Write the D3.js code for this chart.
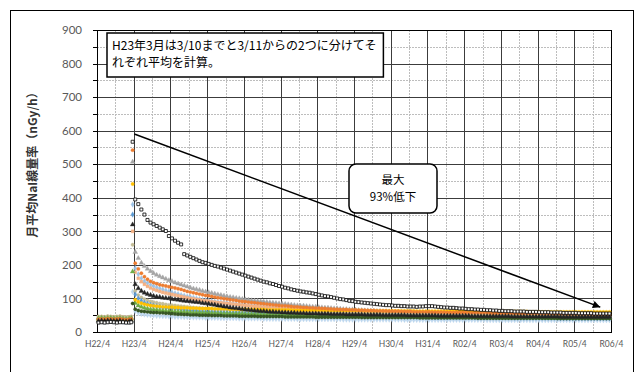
<!DOCTYPE html>
<html>
<head>
<meta charset="utf-8">
<script src="https://cdn.jsdelivr.net/npm/d3@7"></script>
<style>
  body { margin: 0; background: #fff; }
  svg { display: block; }
  .tick text { fill: #595959; font-family: Lato, "Noto Sans", sans-serif; }
</style>
</head>
<body>
<div id="chart"></div>
<script>
// x tick labels, one per April (month index 0, 12, 24 ...)
const xLabels = ["H22/4", "H23/4", "H24/4", "H25/4", "H26/4", "H27/4", "H28/4", "H29/4",
                 "H30/4", "H31/4", "R02/4", "R03/4", "R04/4", "R05/4", "R06/4"];
const yTicks = [0, 100, 200, 300, 400, 500, 600, 700, 800, 900];

// monthly means H22/4 .. H23/3 (before 3/10), nGy/h
const pre01 = [28, 29, 28, 29, 30, 29, 28, 29, 29, 28, 28, 29];
const pre02 = [38, 39, 38, 40, 39, 38, 39, 40, 38, 37, 38, 39];
const pre03 = [43, 43, 42, 44, 43, 42, 43, 44, 42, 41, 42, 43];
const pre04 = [40, 41, 40, 41, 40, 40, 41, 41, 39, 38, 39, 40];
const pre05 = [33, 34, 33, 34, 34, 33, 33, 34, 32, 31, 32, 33];
const pre06 = [36, 37, 36, 37, 37, 36, 36, 37, 35, 34, 35, 36];
const pre07 = [45, 45, 44, 46, 45, 44, 45, 46, 44, 43, 44, 45];
const pre08 = [35, 35, 34, 35, 35, 34, 35, 35, 33, 32, 33, 34];
const pre09 = [31, 32, 31, 32, 32, 31, 31, 32, 30, 29, 30, 31];
const pre10 = [46, 46, 45, 47, 46, 45, 46, 47, 45, 44, 45, 46];
const pre11 = [37, 38, 37, 38, 38, 37, 37, 38, 36, 35, 36, 37];
const pre12 = [41, 42, 41, 42, 42, 41, 41, 42, 40, 39, 40, 41];

// H23/3 mean from 3/11, one value per station (same order as the series)
const marchAfter = [567, 542, 507, 380, 320, 441, 300, 85, 120, 260, 350, 180];

// monthly means H23/4 .. R06/3, one row per fiscal year
const post01 = [
  395, 381, 365, 350, 334, 326, 321, 316, 311, 306, 301, 286,
  279, 272, 266, 261, 232, 228, 224, 220, 216, 212, 208, 206,
  203, 200, 197, 195, 192, 189, 186, 183, 180, 177, 174, 171,
  168, 165, 162, 159, 156, 153, 150, 148, 145, 143, 140, 137,
  135, 132, 130, 127, 125, 123, 121, 120, 118, 117, 115, 113,
  111, 109, 107, 106, 104, 102, 100, 98, 97, 95, 93, 92,
  90, 89, 88, 87, 86, 85, 84, 83, 82, 81, 80, 80,
  79, 78, 78, 77, 77, 76, 76, 76, 75, 76, 76, 77,
  77, 77, 76, 75, 74, 73, 73, 72, 72, 71, 70, 70,
  69, 68, 68, 67, 67, 66, 66, 65, 65, 64, 64, 63,
  63, 62, 62, 62, 61, 61, 61, 61, 60, 60, 60, 60,
  59, 59, 59, 59, 58, 58, 58, 58, 57, 57, 57, 57,
  57, 56, 56, 56, 56, 56, 55, 55, 55, 55, 55, 55];
const post02 = [
  205, 188, 175, 165, 157, 151, 147, 144, 141, 139, 137, 135,
  133, 131, 129, 127, 124, 121, 119, 117, 115, 113, 111, 109,
  108, 106, 104, 102, 101, 99, 98, 96, 95, 94, 92, 91,
  90, 89, 88, 87, 86, 85, 84, 83, 82, 81, 80, 79,
  78, 78, 77, 76, 75, 75, 74, 73, 73, 72, 72, 71,
  71, 70, 70, 69, 69, 68, 68, 67, 67, 67, 66, 66,
  66, 65, 65, 65, 64, 64, 64, 63, 63, 63, 63, 62,
  62, 62, 62, 61, 61, 61, 61, 60, 60, 60, 60, 60,
  60, 59, 59, 59, 59, 59, 58, 58, 58, 58, 58, 58,
  58, 57, 57, 57, 57, 57, 57, 57, 56, 56, 56, 56,
  56, 56, 56, 56, 55, 55, 55, 55, 55, 55, 55, 55,
  55, 54, 54, 54, 54, 54, 54, 54, 54, 53, 53, 53,
  53, 53, 53, 53, 53, 53, 52, 52, 52, 52, 52, 52];
const post03 = [
  238, 220, 206, 196, 188, 181, 175, 170, 166, 162, 158, 154,
  151, 147, 144, 141, 138, 135, 132, 129, 127, 125, 122, 120,
  118, 116, 114, 112, 110, 108, 106, 104, 103, 101, 100, 98,
  97, 96, 94, 93, 92, 91, 90, 89, 88, 87, 86, 85,
  84, 83, 82, 81, 80, 79, 78, 78, 77, 76, 75, 75,
  74, 73, 72, 72, 71, 70, 70, 69, 68, 68, 67, 67,
  66, 65, 65, 64, 64, 63, 63, 62, 62, 61, 61, 60,
  60, 59, 59, 58, 58, 58, 57, 57, 56, 56, 56, 55,
  55, 55, 54, 54, 54, 53, 53, 53, 53, 52, 52, 52,
  52, 51, 51, 51, 51, 50, 50, 50, 50, 50, 49, 49,
  49, 49, 49, 49, 48, 48, 48, 48, 48, 48, 48, 47,
  47, 47, 47, 47, 47, 47, 46, 46, 46, 46, 46, 46,
  46, 46, 46, 46, 45, 45, 45, 45, 45, 45, 45, 45];
const post04 = [
  190, 172, 160, 152, 146, 141, 137, 133, 130, 127, 124, 121,
  118, 115, 113, 110, 108, 106, 104, 102, 100, 98, 96, 95,
  93, 92, 90, 89, 88, 87, 86, 85, 84, 83, 82, 81,
  80, 79, 78, 78, 77, 76, 75, 75, 74, 73, 73, 72,
  71, 71, 70, 70, 69, 69, 68, 68, 67, 67, 66, 66,
  65, 65, 64, 64, 63, 63, 62, 62, 62, 61, 61, 60,
  60, 59, 59, 58, 58, 58, 57, 57, 56, 56, 56, 55,
  55, 55, 54, 54, 54, 53, 53, 53, 52, 52, 52, 52,
  51, 51, 51, 50, 50, 50, 50, 49, 49, 49, 49, 48,
  48, 48, 48, 47, 47, 47, 47, 47, 46, 46, 46, 46,
  46, 45, 45, 45, 45, 45, 44, 44, 44, 44, 44, 44,
  43, 43, 43, 43, 43, 43, 42, 42, 42, 42, 42, 42,
  42, 42, 41, 41, 41, 41, 41, 41, 41, 40, 40, 40];
const post05 = [
  142, 130, 122, 117, 113, 110, 107, 105, 104, 102, 101, 100,
  98, 97, 96, 94, 93, 92, 91, 90, 89, 88, 86, 85,
  84, 82, 81, 79, 78, 76, 75, 73, 72, 71, 70, 68,
  67, 66, 65, 64, 63, 62, 62, 61, 60, 60, 59, 59,
  58, 58, 57, 57, 57, 56, 56, 56, 55, 55, 55, 55,
  54, 54, 54, 54, 53, 53, 53, 53, 53, 52, 52, 52,
  52, 52, 52, 51, 51, 51, 51, 51, 51, 50, 50, 50,
  50, 50, 50, 50, 50, 49, 49, 49, 49, 49, 49, 49,
  49, 49, 49, 48, 48, 48, 48, 48, 48, 48, 48, 48,
  48, 48, 47, 47, 47, 47, 47, 47, 47, 47, 47, 47,
  47, 47, 47, 46, 46, 46, 46, 46, 46, 46, 46, 46,
  46, 46, 46, 46, 46, 46, 46, 45, 45, 45, 45, 45,
  45, 45, 45, 45, 45, 45, 45, 45, 45, 45, 45, 45];
const post06 = [
  96, 90, 86, 83, 81, 79, 78, 77, 76, 75, 75, 74,
  74, 73, 73, 72, 72, 72, 71, 71, 71, 70, 70, 70,
  70, 70, 69, 69, 69, 69, 69, 68, 68, 68, 68, 68,
  68, 67, 67, 67, 67, 67, 67, 66, 66, 66, 66, 66,
  66, 66, 66, 66, 65, 65, 65, 65, 65, 65, 65, 65,
  65, 65, 64, 64, 64, 64, 64, 64, 64, 64, 64, 64,
  64, 64, 64, 63, 63, 63, 63, 63, 63, 63, 63, 63,
  63, 63, 63, 63, 63, 63, 63, 63, 62, 62, 62, 62,
  62, 62, 62, 62, 62, 62, 62, 62, 62, 62, 62, 62,
  62, 62, 61, 61, 61, 61, 61, 61, 61, 61, 61, 61,
  61, 61, 61, 61, 61, 61, 61, 61, 61, 60, 60, 60,
  60, 60, 60, 60, 60, 60, 60, 60, 60, 60, 60, 60,
  60, 60, 60, 60, 60, 60, 60, 60, 60, 60, 60, 60];
const post07 = [
  178, 160, 150, 142, 136, 131, 127, 124, 121, 118, 116, 114,
  112, 110, 108, 106, 104, 102, 100, 99, 97, 96, 94, 93,
  92, 90, 89, 88, 87, 86, 85, 84, 83, 82, 81, 80,
  79, 78, 77, 76, 76, 75, 74, 73, 73, 72, 71, 71,
  70, 69, 69, 68, 68, 67, 67, 66, 66, 65, 65, 64,
  64, 63, 63, 62, 62, 61, 61, 61, 60, 60, 59, 59,
  59, 58, 58, 58, 57, 57, 57, 56, 56, 56, 55, 55,
  55, 54, 54, 54, 54, 53, 53, 53, 53, 52, 52, 52,
  52, 52, 51, 51, 51, 51, 51, 50, 50, 50, 50, 50,
  50, 49, 49, 49, 49, 49, 49, 48, 48, 48, 48, 48,
  48, 48, 47, 47, 47, 47, 47, 47, 47, 47, 46, 46,
  46, 46, 46, 46, 46, 46, 46, 46, 45, 45, 45, 45,
  45, 45, 45, 45, 45, 45, 45, 44, 44, 44, 44, 44];
const post08 = [
  68, 64, 62, 61, 60, 59, 58, 58, 57, 57, 56, 56,
  55, 54, 53, 53, 52, 52, 51, 51, 51, 50, 50, 50,
  50, 49, 49, 49, 49, 48, 48, 48, 48, 48, 47, 47,
  47, 47, 47, 47, 46, 46, 46, 46, 46, 46, 46, 46,
  46, 45, 45, 45, 45, 45, 45, 45, 45, 45, 45, 44,
  44, 44, 44, 44, 44, 44, 44, 44, 44, 44, 44, 44,
  44, 44, 43, 43, 43, 43, 43, 43, 43, 43, 43, 43,
  43, 43, 43, 43, 43, 43, 43, 43, 43, 42, 42, 42,
  42, 42, 42, 42, 42, 42, 42, 42, 42, 42, 42, 42,
  42, 42, 42, 42, 41, 41, 41, 41, 41, 41, 41, 41,
  41, 41, 41, 41, 41, 41, 41, 41, 41, 41, 41, 41,
  41, 41, 41, 41, 41, 41, 40, 40, 40, 40, 40, 40,
  40, 40, 40, 40, 40, 40, 40, 40, 40, 40, 40, 40];
const post09 = [
  62, 57, 54, 52, 51, 50, 49, 48, 48, 47, 47, 46,
  46, 45, 45, 45, 44, 44, 44, 43, 43, 43, 43, 42,
  42, 42, 42, 42, 41, 41, 41, 41, 41, 41, 40, 40,
  40, 40, 40, 40, 40, 40, 39, 39, 39, 39, 39, 39,
  39, 39, 39, 39, 39, 38, 38, 38, 38, 38, 38, 38,
  38, 38, 38, 38, 38, 38, 38, 38, 37, 37, 37, 37,
  37, 37, 37, 37, 37, 37, 37, 37, 37, 37, 37, 37,
  37, 37, 37, 37, 36, 36, 36, 36, 36, 36, 36, 36,
  36, 36, 36, 36, 36, 36, 36, 36, 36, 36, 36, 36,
  36, 36, 36, 36, 36, 36, 36, 35, 35, 35, 35, 35,
  35, 35, 35, 35, 35, 35, 35, 35, 35, 35, 35, 35,
  35, 35, 35, 35, 35, 35, 35, 35, 35, 35, 35, 35,
  35, 35, 35, 35, 35, 35, 35, 35, 35, 35, 35, 35];
const post10 = [
  122, 110, 103, 98, 94, 91, 89, 87, 85, 84, 82, 81,
  80, 79, 78, 77, 76, 75, 74, 73, 72, 72, 71, 70,
  70, 69, 68, 68, 67, 67, 66, 66, 65, 65, 64, 64,
  63, 63, 62, 62, 62, 61, 61, 61, 60, 60, 60, 59,
  59, 59, 58, 58, 58, 58, 57, 57, 57, 57, 56, 56,
  56, 56, 56, 55, 55, 55, 55, 55, 54, 54, 54, 54,
  54, 54, 53, 53, 53, 53, 53, 53, 52, 52, 52, 52,
  52, 52, 52, 52, 51, 51, 51, 51, 51, 51, 51, 51,
  51, 50, 50, 50, 50, 50, 50, 50, 50, 50, 50, 49,
  49, 49, 49, 49, 49, 49, 49, 49, 49, 48, 48, 48,
  48, 48, 48, 48, 48, 48, 48, 48, 48, 48, 47, 47,
  47, 47, 47, 47, 47, 47, 47, 47, 47, 47, 47, 47,
  47, 47, 47, 46, 46, 46, 46, 46, 46, 46, 46, 46];
const post11 = [
  112, 100, 93, 88, 84, 81, 79, 77, 75, 73, 72, 71,
  70, 69, 68, 67, 66, 65, 64, 64, 63, 62, 62, 61,
  61, 60, 60, 59, 59, 58, 58, 57, 57, 57, 56, 56,
  56, 55, 55, 55, 54, 54, 54, 54, 53, 53, 53, 53,
  52, 52, 52, 52, 52, 51, 51, 51, 51, 51, 50, 50,
  50, 50, 50, 50, 49, 49, 49, 49, 49, 49, 49, 48,
  48, 48, 48, 48, 48, 48, 47, 47, 47, 47, 47, 47,
  47, 47, 47, 47, 46, 46, 46, 46, 46, 46, 46, 46,
  46, 46, 45, 45, 45, 45, 45, 45, 45, 45, 45, 45,
  45, 45, 45, 44, 44, 44, 44, 44, 44, 44, 44, 44,
  44, 44, 44, 44, 43, 43, 43, 43, 43, 43, 43, 43,
  43, 43, 43, 43, 43, 43, 43, 42, 42, 42, 42, 42,
  42, 42, 42, 42, 42, 42, 42, 42, 42, 42, 42, 42];
const post12 = [
  86, 79, 75, 72, 70, 68, 67, 66, 65, 64, 63, 62,
  62, 61, 61, 60, 60, 59, 59, 58, 58, 58, 57, 57,
  57, 56, 56, 56, 55, 55, 55, 55, 54, 54, 54, 54,
  53, 53, 53, 53, 53, 52, 52, 52, 52, 52, 51, 51,
  51, 51, 51, 51, 50, 50, 50, 50, 50, 50, 50, 49,
  49, 49, 49, 49, 49, 49, 48, 48, 48, 48, 48, 48,
  48, 48, 48, 47, 47, 47, 47, 47, 47, 47, 47, 46,
  46, 46, 46, 46, 46, 46, 46, 46, 45, 45, 45, 45,
  45, 45, 45, 45, 45, 45, 45, 45, 44, 44, 44, 44,
  44, 44, 44, 44, 44, 44, 44, 44, 44, 44, 43, 43,
  43, 43, 43, 43, 43, 43, 43, 43, 43, 43, 43, 43,
  43, 43, 42, 42, 42, 42, 42, 42, 42, 42, 42, 42,
  42, 42, 42, 42, 42, 42, 42, 42, 42, 42, 42, 42];

// marker style per station
const markerShapes = ["square", "circle", "triangle", "diamond", "triangle", "circle",
                      "square", "circle", "diamond", "circle", "diamond", "triangle"];
const markerColors = ["#000000", "#ED7D31", "#A5A5A5", "#9DC3E6", "#262626", "#FFC000",
                      "#F4B183", "#375623", "#BDD7EE", "#C4BD97", "#5B9BD5", "#70AD47"];

const preAll = [pre01, pre02, pre03, pre04, pre05, pre06, pre07, pre08, pre09, pre10, pre11, pre12];
const postAll = [post01, post02, post03, post04, post05, post06, post07, post08, post09, post10, post11, post12];

const width = 643, height = 372;
const svg = d3.select('#chart').append('svg').attr('width', width).attr('height', height);

// outer chart frame
svg.append('rect')
  .attr('x', 10.5).attr('y', 10.5).attr('width', 623).attr('height', 380)
  .attr('fill', '#fff').attr('stroke', '#000').attr('stroke-width', 1);

const x = d3.scaleLinear().domain([0, 168]).range([97, 611]);
const y = d3.scaleLinear().domain([0, 900]).range([332, 30]);
const px = v => Math.round(v) + 0.5;

// minor gridlines (every 50 / half year)
const minor = svg.append('g');
minor.selectAll('line.h').data(d3.range(50, 900, 100)).join('line')
  .attr('x1', x(0)).attr('x2', x(168))
  .attr('y1', d => px(y(d))).attr('y2', d => px(y(d)))
  .attr('stroke', '#bdbdbd').attr('stroke-dasharray', '2,1');
minor.selectAll('line.v').data(d3.range(6, 168, 12)).join('line')
  .attr('y1', y(0)).attr('y2', y(900))
  .attr('x1', d => px(x(d))).attr('x2', d => px(x(d)))
  .attr('stroke', '#bdbdbd').attr('stroke-dasharray', '2,1');

// major gridlines (every 100 / year)
const major = svg.append('g');
major.selectAll('line.h').data(yTicks.slice(1, -1)).join('line')
  .attr('x1', x(0)).attr('x2', x(168))
  .attr('y1', d => px(y(d))).attr('y2', d => px(y(d)))
  .attr('stroke', '#3c3c3c');
major.selectAll('line.v').data(d3.range(12, 168, 12)).join('line')
  .attr('y1', y(0)).attr('y2', y(900))
  .attr('x1', d => px(x(d))).attr('x2', d => px(x(d)))
  .attr('stroke', '#3c3c3c');

// plot area border
svg.append('rect')
  .attr('x', px(x(0))).attr('y', px(y(900)))
  .attr('width', Math.round(x(168)) - Math.round(x(0)))
  .attr('height', Math.round(y(0)) - Math.round(y(900)))
  .attr('fill', 'none').attr('stroke', '#000');

// outward ticks on the y axis
svg.append('g').selectAll('line').data(d3.range(0, 901, 50)).join('line')
  .attr('x1', x(0) - 4).attr('x2', x(0))
  .attr('y1', d => px(y(d))).attr('y2', d => px(y(d)))
  .attr('stroke', '#000');

const yAxis = svg.append('g')
  .attr('transform', `translate(${x(0)},0)`)
  .call(d3.axisLeft(y).tickValues(yTicks).tickSize(0).tickPadding(15));
yAxis.select('.domain').remove();
yAxis.selectAll('text').style('font-size', '11.5px');

const xAxis = svg.append('g')
  .attr('transform', `translate(0,${y(0)})`)
  .call(d3.axisBottom(x).tickValues(d3.range(0, 169, 12)).tickFormat((d, i) => xLabels[i])
        .tickSize(0).tickPadding(9));
xAxis.select('.domain').remove();
xAxis.selectAll('text').style('font-size', '8.5px');

// y axis title
svg.append('text')
  .attr('transform', 'translate(37,162) rotate(-90)')
  .attr('text-anchor', 'middle')
  .attr('font-family', '"Noto Sans CJK JP", sans-serif')
  .attr('font-size', 12).attr('font-weight', 'bold').attr('fill', '#333')
  .text('月平均NaI線量率（nGy/h）');

// markers
const symbolTypes = {square: d3.symbolSquare, circle: d3.symbolCircle,
                     triangle: d3.symbolTriangle, diamond: d3.symbolDiamond};
const order = [2, 3, 6, 8, 9, 10, 11, 7, 5, 1, 4, 0];
const marks = svg.append('g');
order.forEach(s => {
  const pts = [];
  preAll[s].forEach((v, i) => pts.push({m: i < 11 ? i + 0.5 : 11.2, v}));
  pts.push({m: 11.65, v: marchAfter[s]});
  postAll[s].forEach((v, k) => pts.push({m: 12.5 + k, v}));
  const shape = markerShapes[s];
  const sym = d3.symbol().type(symbolTypes[shape]).size(shape === 'triangle' ? 10 : 9);
  marks.append('g').selectAll('path').data(pts).join('path')
    .attr('transform', d => `translate(${x(d.m)},${y(d.v)})`)
    .attr('d', sym)
    .attr('fill', s === 0 ? '#fff' : markerColors[s])
    .attr('stroke', markerColors[s])
    .attr('stroke-width', s === 0 ? 0.8 : 0.4)
    .attr('stroke-opacity', s === 0 ? 1 : 0.8);
});

// note box
const note = svg.append('g');
const noteRect = note.append('rect')
  .attr('x', 107).attr('y', 33).attr('height', 44)
  .attr('fill', '#fff').attr('stroke', '#000').attr('stroke-width', 1.5);
const noteText = note.append('text')
  .attr('font-family', '"Noto Sans CJK JP", sans-serif')
  .attr('font-size', 12).attr('fill', '#000');
noteText.append('tspan').attr('x', 112).attr('y', 50).text('H23年3月は3/10までと3/11からの2つに分けてそ');
noteText.append('tspan').attr('x', 112).attr('y', 67).text('れぞれ平均を計算。');
noteRect.attr('width', noteText.node().getBBox().width + 12);

// arrow showing the decrease
const defs = svg.append('defs');
defs.append('marker').attr('id', 'head')
  .attr('viewBox', '0 0 10 10').attr('refX', 10).attr('refY', 5)
  .attr('markerWidth', 6).attr('markerHeight', 5).attr('orient', 'auto')
  .attr('markerUnits', 'strokeWidth')
  .append('path').attr('d', 'M0,0 L10,5 L0,10 Z').attr('fill', '#000');
svg.append('line')
  .attr('x1', x(12.2)).attr('y1', y(590))
  .attr('x2', x(164.5)).attr('y2', y(74))
  .attr('stroke', '#000').attr('stroke-width', 1.5)
  .attr('marker-end', 'url(#head)');

// callout box
const callout = svg.append('g');
callout.append('rect')
  .attr('x', 349).attr('y', 164).attr('width', 88).attr('height', 49)
  .attr('rx', 7).attr('ry', 7)
  .attr('fill', '#fff').attr('stroke', '#000').attr('stroke-width', 1.5);
const calloutText = callout.append('text')
  .attr('text-anchor', 'middle')
  .attr('font-family', '"Noto Sans CJK JP", sans-serif')
  .attr('font-size', 11.5).attr('fill', '#000');
calloutText.append('tspan').attr('x', 393).attr('y', 184).text('最大');
calloutText.append('tspan').attr('x', 393).attr('y', 201).text('93%低下');
</script>
</body>
</html>
